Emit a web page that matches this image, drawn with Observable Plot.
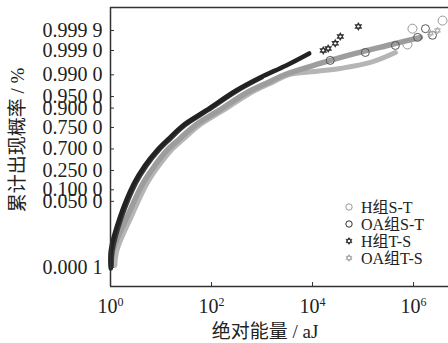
<!DOCTYPE html>
<html>
<head>
<meta charset="utf-8">
<script src="https://cdn.jsdelivr.net/npm/d3@7"></script>
<script src="https://cdn.jsdelivr.net/npm/@observablehq/plot@0.6"></script>
<style>
  html, body { margin: 0; padding: 0; background: #fff; }
  svg { display: block; }
</style>
</head>
<body>
<div id="chart"></div>
<script>
// ---------- data ----------
const seriesNames = ["H组S-T", "OA组S-T", "H组T-S", "OA组T-S"];

// H组T-S (dark stars): dense band + sparse tail
const hTS_bandE = [1.014, 1.014, 1.53, 2.90, 4.79, 8.29, 13.7, 27.2, 77.8, 306, 917, 3010, 8600];
const hTS_bandP = [0.000088, 0.00072, 0.0158, 0.139, 0.302, 0.481, 0.617, 0.7696, 0.8866, 0.9668, 0.98759, 0.99562, 0.99864];
const hTS_tailE = [16300, 20400, 28200, 35500, 80700];
const hTS_tailP = [0.99901, 0.99919, 0.99954, 0.99979, 0.99994];

// OA组S-T (dark circles)
const oaST_bandE = [1.061, 1.111, 1.676, 3.18, 5.25, 9.08, 15.0, 29.8, 85.3, 336, 1005];
const oaST_bandP = [0.000128, 0.00072, 0.0158, 0.139, 0.302, 0.481, 0.617, 0.7696, 0.8866, 0.9668, 0.98759];
const oaST_tailE = [22400, 111000, 437000, 1200000, 1720000, 2370000];
const oaST_tailP = [0.99727, 0.99877, 0.99942, 0.99977, 0.99992, 0.99982];

// OA组T-S (light stars)
const oaTS_bandE = [1.014, 1.111, 2.106, 4.37, 7.57, 13.1, 22.7, 47.1, 141, 506, 1449, 2873, 14200, 70700, 303000, 1370000];
const oaTS_bandP = [0.000128, 0.00072, 0.0158, 0.139, 0.302, 0.481, 0.617, 0.7696, 0.8866, 0.9619, 0.9830, 0.9903, 0.99636, 0.99864, 0.99942, 0.99977];
const oaTS_tailE = [2160000, 2980000];
const oaTS_tailP = [0.99986, 0.9999];

// H组S-T (light circles)
const hST_bandE = [1.217, 1.334, 2.527, 5.25, 9.08, 15.7, 27.2, 56.5, 169, 608, 1738, 3451, 11300, 35300, 140000, 437000];
const hST_bandP = [0.000128, 0.00072, 0.0158, 0.139, 0.302, 0.481, 0.617, 0.7696, 0.8866, 0.9619, 0.9830, 0.9903, 0.9925, 0.99425, 0.99669, 0.99877];
const hST_tailE = [757000, 951000, 3750000];
const hST_tailP = [0.99948, 0.99992, 0.999972];

// axes
const xTickValues = [1, 100, 10000, 1000000];
const xTickExponents = ["0", "2", "4", "6"];
const yTickValues = [0.0001, 0.05, 0.1, 0.25, 0.5, 0.75, 0.9, 0.95, 0.99, 0.999, 0.9999];
const yTickLabels = ["0.000 1", "0.050 0", "0.100 0", "0.250 0", "0.700 0", "0.750 0", "0.900 0", "0.950 0", "0.990 0", "0.999 0", "0.999 9"];
const xDomain = [1, 4.92e6];
const yDomainP = [0.0000079, 0.9999955];
const xLabel = "绝对能量 / aJ";
const yLabel = "累计出现概率 / %";

// ---------- helpers ----------
function probit(p) {
  const a = [-3.969683028665376e+01, 2.209460984245205e+02, -2.759285104469687e+02, 1.383577518672690e+02, -3.066479806614716e+01, 2.506628277459239e+00];
  const b = [-5.447609879822406e+01, 1.615858368580409e+02, -1.556989798598866e+02, 6.680131188771972e+01, -1.328068155288572e+01];
  const c = [-7.784894002430293e-03, -3.223964580411365e-01, -2.400758277161838e+00, -2.549732539343734e+00, 4.374664141464968e+00, 2.938163982698783e+00];
  const d = [7.784695709041462e-03, 3.224671290700398e-01, 2.445134137142996e+00, 3.754408661907416e+00];
  const pl = 0.02425, ph = 1 - pl;
  if (p < pl) {
    const q = Math.sqrt(-2 * Math.log(p));
    return (((((c[0]*q+c[1])*q+c[2])*q+c[3])*q+c[4])*q+c[5]) / ((((d[0]*q+d[1])*q+d[2])*q+d[3])*q+1);
  }
  if (p <= ph) {
    const q = p - 0.5, r = q * q;
    return (((((a[0]*r+a[1])*r+a[2])*r+a[3])*r+a[4])*r+a[5])*q / (((((b[0]*r+b[1])*r+b[2])*r+b[3])*r+b[4])*r+1);
  }
  const q = Math.sqrt(-2 * Math.log(1 - p));
  return -(((((c[0]*q+c[1])*q+c[2])*q+c[3])*q+c[4])*q+c[5]) / ((((d[0]*q+d[1])*q+d[2])*q+d[3])*q+1);
}
const rows = (E, P) => E.map((e, i) => ({E: e, z: probit(P[i])}));

const hexagram = {
  draw(ctx, size) {
    const r = Math.sqrt(size / Math.PI) * 1.1;
    for (const off of [-90, 90]) {
      for (let k = 0; k < 3; k++) {
        const ang = (off + k * 120) * Math.PI / 180;
        const px = r * Math.cos(ang), py = r * Math.sin(ang);
        if (k === 0) ctx.moveTo(px, py); else ctx.lineTo(px, py);
      }
      ctx.closePath();
    }
  }
};

const DARK = "#222", DARK2 = "#3a3a3a", GRAY = "#9d9d9d", LIGHT = "#b5b5b5";
const yTickZ = yTickValues.map(probit);
const yLabelMap = new Map(yTickZ.map((z, i) => [z, yTickLabels[i]]));
const zDomain = yDomainP.map(probit);
const FONT = "'Liberation Serif', 'Noto Sans CJK SC', serif";

const chart = Plot.plot({
  width: 448,
  height: 343,
  marginLeft: 110,
  marginRight: 0,
  marginTop: 7,
  marginBottom: 57,
  style: {fontFamily: FONT, fontSize: "20px", color: "#222", background: "#fff", overflow: "visible"},
  x: {type: "log", domain: xDomain},
  y: {domain: zDomain},
  marks: [
    // bands (dense point clouds)
    Plot.line(rows(hST_bandE, hST_bandP), {x: "E", y: "z", stroke: LIGHT, strokeWidth: 5, curve: "catmull-rom"}),
    Plot.line(rows(oaTS_bandE, oaTS_bandP), {x: "E", y: "z", stroke: GRAY, strokeWidth: 5.5, curve: "catmull-rom"}),
    Plot.line(rows(oaST_bandE, oaST_bandP), {x: "E", y: "z", stroke: DARK2, strokeWidth: 4, curve: "catmull-rom"}),
    Plot.line(rows(hTS_bandE, hTS_bandP), {x: "E", y: "z", stroke: DARK, strokeWidth: 4.5, curve: "catmull-rom"}),
    // sparse tails
    Plot.dot(rows(hST_tailE, hST_tailP), {x: "E", y: "z", r: 4.5, stroke: "#999", strokeWidth: 1, fill: "none"}),
    Plot.dot(rows(oaST_tailE, oaST_tailP), {x: "E", y: "z", r: 4, stroke: "#555", strokeWidth: 1, fill: "none"}),
    Plot.dot(rows(oaTS_tailE, oaTS_tailP), {x: "E", y: "z", r: 3, symbol: hexagram, stroke: "#aaa", strokeWidth: 1, fill: "none"}),
    Plot.dot(rows(hTS_tailE, hTS_tailP), {x: "E", y: "z", r: 3, symbol: hexagram, stroke: "#333", strokeWidth: 1.2, fill: "none"}),
    // frame
    Plot.ruleX([xDomain[0]], {stroke: "#333", strokeWidth: 1.5}),
    Plot.ruleY(zDomain, {stroke: "#333", strokeWidth: 1.5}),
    // axes
    Plot.axisY({ticks: yTickZ, tickFormat: z => yLabelMap.get(z), tickSize: -4, tickPadding: 12, fontSize: 20, label: null, stroke: "#333"}),
    Plot.axisX({ticks: xTickValues, tickFormat: d => "10", tickSize: -4, tickPadding: 16, fontSize: 20, label: null, stroke: "#333"})
  ]
});
document.getElementById("chart").appendChild(chart);

const svg = d3.select(chart);
// superscripts on x tick labels
svg.selectAll('g[aria-label="x-axis tick label"] text').each(function(d, i) {
  d3.select(this).append("tspan").attr("dy", "-0.55em").attr("font-size", 12).text(xTickExponents[i]);
});

// axis titles
svg.append("text").attr("x", 265).attr("y", 338).attr("text-anchor", "middle")
  .attr("font-family", FONT).attr("font-size", 19).attr("fill", "#222").text(xLabel);
svg.append("text").attr("transform", "translate(24,140) rotate(-90)").attr("text-anchor", "middle")
  .attr("font-family", FONT).attr("font-size", 19).attr("fill", "#222").text(yLabel);

// legend
const legendStyles = [
  {shape: "circle", stroke: "#999"},
  {shape: "circle", stroke: "#333"},
  {shape: "star", stroke: "#333"},
  {shape: "star", stroke: "#aaa"}
];
const lg = svg.append("g").attr("font-family", FONT).attr("font-size", 16).attr("fill", "#222").attr("text-anchor", "start");
seriesNames.forEach((name, i) => {
  const y = 207 + i * 17;
  const st = legendStyles[i];
  if (st.shape === "circle") {
    lg.append("circle").attr("cx", 349).attr("cy", y).attr("r", 3.2).attr("fill", "none").attr("stroke", st.stroke);
  } else {
    const p = d3.path(); hexagram.draw(p, Math.PI * 9);
    lg.append("path").attr("transform", `translate(349,${y})`).attr("d", p.toString()).attr("fill", "none").attr("stroke", st.stroke);
  }
  lg.append("text").attr("x", 361).attr("y", y).attr("dy", "0.35em").attr("text-anchor", "start").text(name);
});
</script>
</body>
</html>
